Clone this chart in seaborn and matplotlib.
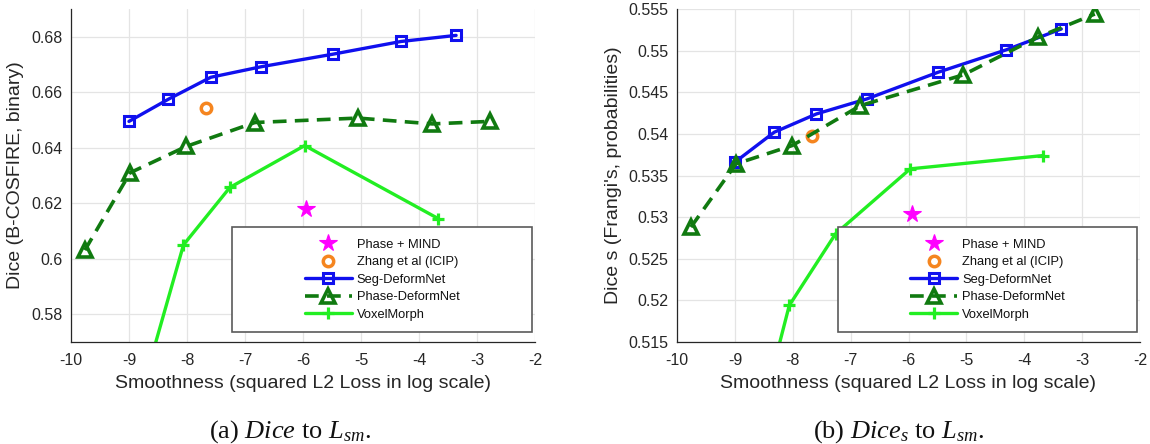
import matplotlib
matplotlib.use("Agg")
import matplotlib.pyplot as plt
import matplotlib.ticker as mticker
from matplotlib.patches import Rectangle
import seaborn as sns

# log smoothness positions (same runs in both panels)
seg_x = [-9.0, -8.32, -7.59, -6.72, -5.49, -4.31, -3.36]
phase_x = [-9.76, -8.98, -8.01, -6.83, -5.05, -3.77, -2.78]
vox_x = [-9.0, -8.06, -7.26, -5.97, -3.67]
mind_x = [-5.94]
zhang_x = [-7.67]

# (a) Dice, B-COSFIRE binary
dice_seg = [0.6495, 0.6575, 0.6654, 0.6692, 0.6737, 0.6783, 0.6805]
dice_phase = [0.6031, 0.6310, 0.6405, 0.6491, 0.6507, 0.6486, 0.6495]
dice_vox = [0.536, 0.6050, 0.6257, 0.6408, 0.6145]
dice_mind = [0.618]
dice_zhang = [0.6545]

# (b) Dice_s, Frangi probabilities
dices_seg = [0.5366, 0.5402, 0.5424, 0.5442, 0.5474, 0.5501, 0.5526]
dices_phase = [0.5288, 0.5364, 0.5386, 0.5434, 0.5471, 0.5516, 0.5544]
dices_vox = [0.494, 0.5194, 0.5280, 0.5358, 0.5374]
dices_mind = [0.5304]
dices_zhang = [0.5398]

x_ticks = list(range(-10, -1))
yticks_a = [0.58, 0.60, 0.62, 0.64, 0.66, 0.68]
yticks_b = [0.515, 0.52, 0.525, 0.53, 0.535, 0.54, 0.545, 0.55, 0.555]

legend_order = ["Phase + MIND", "Zhang et al (ICIP)", "Seg-DeformNet",
                "Phase-DeformNet", "VoxelMorph"]

sns.set_theme(style="white")
plt.rcParams["font.family"] = ["Liberation Sans", "DejaVu Sans"]
plt.rcParams["mathtext.fontset"] = "custom"
plt.rcParams["mathtext.rm"] = "Liberation Serif"
plt.rcParams["mathtext.it"] = "Liberation Serif:italic"

DARK = "#262626"


def draw_panel(ax, seg, phase, vox, mind, zhang, ylim, yticks, ylabel):
    sns.lineplot(x=mind_x, y=mind, ax=ax, linestyle="", marker="*",
                 markersize=13, markerfacecolor="#ff00ff",
                 markeredgecolor="#ff00ff", markeredgewidth=0.8,
                 label="Phase + MIND")
    sns.lineplot(x=zhang_x, y=zhang, ax=ax, linestyle="", marker="o",
                 markersize=7.5, markerfacecolor="none",
                 markeredgecolor="#f5851f", markeredgewidth=2.5,
                 label="Zhang et al (ICIP)")
    sns.lineplot(x=seg_x, y=seg, ax=ax, color="#1010ee", linewidth=2.4,
                 marker="s", markersize=7.5, markerfacecolor="none",
                 markeredgecolor="#1010ee", markeredgewidth=2.2,
                 label="Seg-DeformNet")
    sns.lineplot(x=phase_x, y=phase, ax=ax, color="#107a10", linewidth=2.6,
                 marker="^", markersize=10.5, markerfacecolor="none",
                 markeredgecolor="#107a10", markeredgewidth=2.6,
                 label="Phase-DeformNet")
    ax.lines[-1].set_dashes([3.8, 2.3])
    sns.lineplot(x=vox_x, y=vox, ax=ax, color="#22ee22", linewidth=2.4,
                 marker="+", markersize=8, markeredgecolor="#22ee22",
                 markeredgewidth=2.3, label="VoxelMorph")

    ax.set_xlim(-10, -2)
    ax.set_ylim(*ylim)
    ax.set_xticks(x_ticks)
    ax.set_yticks(yticks)
    ax.yaxis.set_major_formatter(mticker.FormatStrFormatter("%g"))
    ax.xaxis.set_major_formatter(mticker.FormatStrFormatter("%g"))
    ax.grid(True, color="#e4e4e4", linewidth=0.9)
    ax.set_axisbelow(True)
    sns.despine(ax=ax)
    for side in ("left", "bottom"):
        ax.spines[side].set_color(DARK)
        ax.spines[side].set_linewidth(0.9)
    ax.tick_params(direction="in", length=4, width=0.8, colors=DARK,
                   labelsize=11.5, pad=6)
    ax.tick_params(axis="x", pad=8)
    ax.set_xlabel("Smoothness (squared L2 Loss in log scale)", fontsize=14,
                  color=DARK, labelpad=5)
    ax.set_ylabel(ylabel, fontsize=14, color=DARK, labelpad=5)

    # legend box (white, covers the curves behind it)
    box = Rectangle((0.348, 0.031), 0.646, 0.313, transform=ax.transAxes,
                    facecolor="white", edgecolor="#5a5a5a", linewidth=1.2,
                    zorder=4)
    ax.add_patch(box)
    handles, labels = ax.get_legend_handles_labels()
    lookup = dict(zip(labels, handles))
    leg = ax.legend([lookup[k] for k in legend_order], legend_order,
                    loc="center", bbox_to_anchor=(0.671, 0.187),
                    frameon=False, fontsize=9.3, handlelength=3.6,
                    handletextpad=0.4, labelspacing=0.42, numpoints=1)
    leg.set_zorder(5)
    for t in leg.get_texts():
        t.set_color("#111111")


fig = plt.figure(figsize=(11.5, 4.44), dpi=100)
ax_a = fig.add_axes([0.0617, 0.2297, 0.4035, 0.750])
ax_b = fig.add_axes([0.5887, 0.2297, 0.4026, 0.750])

draw_panel(ax_a, dice_seg, dice_phase, dice_vox, dice_mind, dice_zhang,
           (0.57, 0.69), yticks_a, "Dice (B-COSFIRE, binary)")
draw_panel(ax_b, dices_seg, dices_phase, dices_vox, dices_mind, dices_zhang,
           (0.515, 0.555), yticks_b, "Dice s (Frangi's, probabilities)")

fig.text(0.252, 0.028, r"(a) $\mathit{Dice}$ to $L_{sm}$.", ha="center",
         va="center", fontsize=19, family="Liberation Serif", color="#111111")
fig.text(0.781, 0.028, r"(b) $Dice_{s}$ to $L_{sm}$.", ha="center",
         va="center", fontsize=19, family="Liberation Serif", color="#111111")

fig.savefig("out.png", dpi=100)
